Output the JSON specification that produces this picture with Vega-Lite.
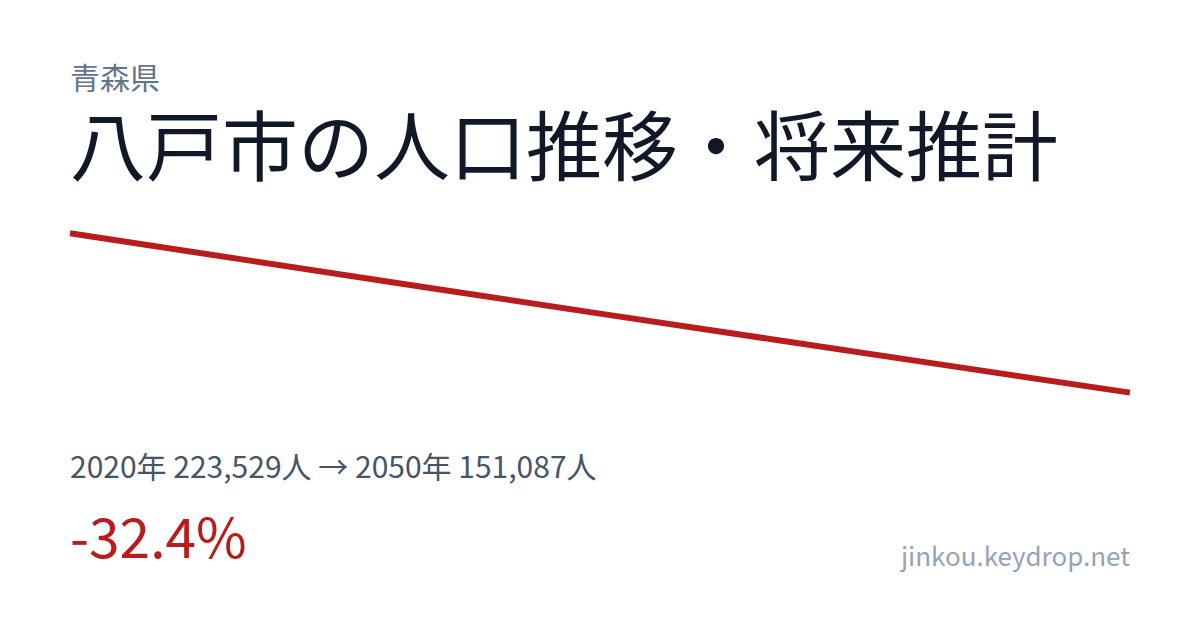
{
  "$schema": "https://vega.github.io/schema/vega-lite/v6.json",
  "width": 1200,
  "height": 630,
  "autosize": {"type": "fit", "contains": "padding"},
  "padding": {"left": 58, "right": 58, "top": 65, "bottom": 15},
  "background": "white",
  "title": {
    "text": "青森県",
    "subtitle": "八戸市の人口推移・将来推計",
    "anchor": "start",
    "frame": "group",
    "font": "Noto Sans CJK JP",
    "fontSize": 30,
    "fontWeight": "normal",
    "color": "#64748b",
    "subtitleFont": "Noto Sans CJK JP",
    "subtitleFontSize": 76,
    "subtitleFontWeight": "normal",
    "subtitleColor": "#111827",
    "subtitlePadding": 20,
    "offset": 7
  },
  "config": {"view": {"stroke": null}},
  "layer": [
    {
      "data": {
        "values": [
          {"year": 2020, "population": 223529},
          {"year": 2025, "population": 211300},
          {"year": 2030, "population": 199100},
          {"year": 2035, "population": 187000},
          {"year": 2040, "population": 175000},
          {"year": 2045, "population": 163000},
          {"year": 2050, "population": 151087}
        ]
      },
      "mark": {"type": "line", "color": "#b91c1c", "strokeWidth": 6, "strokeCap": "butt"},
      "encoding": {
        "x": {"field": "year", "type": "quantitative", "scale": {"domain": [2020, 2050], "nice": false, "zero": false}, "axis": null},
        "y": {"field": "population", "type": "quantitative", "scale": {"domain": [50000, 240000], "nice": false, "zero": false}, "axis": null}
      }
    },
    {
      "data": {"values": [{"label": "2020年 223,529人 → 2050年 151,087人"}]},
      "mark": {"type": "text", "align": "left", "baseline": "alphabetic", "font": "Noto Sans CJK JP", "fontSize": 30, "color": "#475569"},
      "encoding": {
        "x": {"datum": 2020},
        "y": {"datum": 112300},
        "text": {"field": "label"}
      }
    },
    {
      "data": {"values": [{"label": "-32.4%"}]},
      "mark": {"type": "text", "align": "left", "baseline": "alphabetic", "font": "Noto Sans CJK JP", "fontSize": 55, "color": "#b91c1c"},
      "encoding": {
        "x": {"datum": 2020},
        "y": {"datum": 75700},
        "text": {"field": "label"}
      }
    },
    {
      "data": {"values": [{"label": "jinkou.keydrop.net"}]},
      "mark": {"type": "text", "align": "right", "baseline": "alphabetic", "font": "Noto Sans CJK JP", "fontSize": 26, "color": "#94a3b8"},
      "encoding": {
        "x": {"datum": 2050},
        "y": {"datum": 72300},
        "text": {"field": "label"}
      }
    }
  ]
}
